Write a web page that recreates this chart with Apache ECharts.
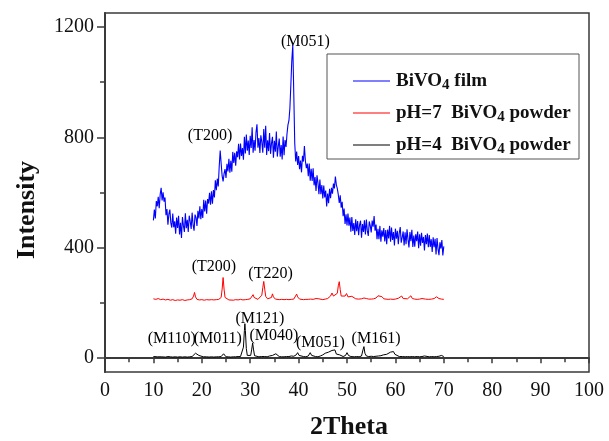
<!DOCTYPE html>
<html>
<head>
<meta charset="utf-8">
<script src="https://cdn.jsdelivr.net/npm/echarts@6/dist/echarts.min.js"></script>
<style>
  html, body { margin: 0; padding: 0; background: #fff; }
  #chart { width: 609px; height: 441px; }
</style>
</head>
<body>
<div id="chart"></div>
<script>
// XRD patterns of BiVO4 film and powders

// Film scan: sampled from 10° to 70° in 0.2° steps (one group of five per degree)
const filmStart = 10;
const filmStep = 0.2;
const filmIntensity = [
  499,538,506,569,550, 584,543,593,617,571, 601,567,582,518,540, 483,522,538,490,473,
  524,474,496,451,509, 472,516,448,490,435, 511,480,457,525,471, 501,457,516,496,468,
  527,483,462,520,510, 479,534,506,550,503, 540,508,574,531,571, 523,576,560,599,556,
  604,559,609,582,644, 608,650,622,695,752, 705,660,640,668,685, 653,704,676,722,672,
  715,675,747,707,744, 697,749,728,776,720, 777,732,761,719,802, 741,810,751,788,736,
  805,761,836,744,790, 751,818,847,762,797, 743,807,783,744,830, 762,842,736,789,750,
  815,740,778,802,726, 787,748,821,730,767, 795,730,772,720,803, 735,790,765,812,845,
  860,905,990,1080,1135, 960,780,712,748,700, 732,684,716,673,733, 712,768,715,688,705,
  659,705,643,686,642, 688,626,656,606,662, 635,594,647,594,627, 578,625,582,607,549,
  596,561,613,579,617, 596,632,615,658,628, 614,592,562,590,545, 566,514,542,486,521,
  481,524,480,509,458, 511,461,489,446,503, 460,497,445,483,498, 436,486,457,499,448,
  502,461,443,495,480, 455,498,476,515,462, 484,431,469,431,479, 422,463,440,471,423,
  464,413,466,434,479, 422,473,428,457,408, 469,433,461,413,454, 475,418,437,459,408,
  456,413,467,431,401, 457,424,465,403,444, 404,449,424,459,398, 449,407,454,417,439,
  390,446,413,451,402, 446,403,431,385,438, 402,432,376,435,397, 373,420,397,428,372,
  405
];

// pH = 7 powder: [2θ, intensity]
const ph7Pattern = [
  [10,215],[10.5,213],[11,216],[11.5,212],[12,214],[12.5,211],[13,213],[13.5,210],[14,212],[14.5,209],
  [15,211],[15.5,210],[16,212],[16.5,209],[17,211],[17.5,212],[18,215],[18.3,225],[18.5,238],[18.7,222],
  [19,213],[19.5,211],[20,212],[20.5,210],[21,212],[21.5,211],[22,212],[22.5,211],[23,212],[23.5,213],
  [24,220],[24.2,250],[24.4,292],[24.6,250],[24.8,220],[25.2,213],[25.6,211],[26,212],[26.5,210],[27,212],
  [27.5,211],[28,213],[28.5,211],[29,212],[29.5,213],[30,215],[30.4,222],[30.6,230],[30.8,220],[31.2,214],
  [31.6,213],[32,215],[32.4,228],[32.6,255],[32.8,278],[33.0,250],[33.2,224],[33.6,215],[34,214],[34.4,220],
  [34.6,233],[34.8,222],[35.2,214],[35.6,213],[36,212],[36.5,213],[37,212],[37.5,213],[38,212],[38.5,213],
  [39,214],[39.4,220],[39.6,232],[39.8,222],[40.2,214],[40.6,213],[41,212],[41.5,213],[42,213],[42.5,214],
  [43,213],[43.6,216],[43.9,222],[44.2,215],[44.6,213],[45,212],[45.5,214],[46,216],[46.6,225],[46.9,236],
  [47.2,225],[47.6,222],[48.0,235],[48.2,262],[48.4,277],[48.6,248],[48.8,225],[49.2,220],[49.6,225],[49.9,234],
  [50.2,222],[50.6,220],[51.0,224],[51.3,219],[51.8,215],[52.4,214],[53,215],[53.5,218],[54,216],[54.5,214],
  [55,214],[55.5,215],[56,218],[56.4,226],[56.8,220],[57.2,223],[57.6,215],[58,214],[58.5,213],[59,214],
  [59.5,213],[60,214],[60.6,217],[61.0,224],[61.3,225],[61.6,216],[62,214],[62.5,215],[62.9,222],[63.2,226],
  [63.5,216],[64,214],[64.5,213],[65,214],[65.5,216],[65.8,219],[66.2,214],[66.8,213],[67.5,214],[68,216],
  [68.5,222],[68.7,226],[69,216],[69.5,214],[70,213]
];

// pH = 4 powder: [2θ, intensity]
const ph4Pattern = [
  [10,6],[10.4,8],[10.8,5],[11.2,7],[11.6,5],[12,6],[12.5,4],[13,6],[13.5,5],[14,4],
  [14.5,5],[15,4],[15.5,5],[16,4],[16.5,5],[17,4],[17.5,5],[18,6],[18.4,10],[18.7,18],
  [18.9,24],[19.1,20],[19.4,10],[19.8,6],[20.3,5],[21,5],[21.5,4],[22,5],[22.5,4],[23,5],
  [23.5,5],[24,6],[24.3,10],[24.5,16],[24.7,9],[25,5],[25.5,5],[26,4],[26.5,5],[27,5],
  [27.5,6],[28,6],[28.4,12],[28.6,40],[28.8,100],[28.9,125],[29.0,100],[29.2,35],[29.4,10],[29.8,7],
  [30.1,10],[30.3,30],[30.5,55],[30.7,30],[30.9,9],[31.3,6],[31.8,5],[32.3,6],[32.7,11],[33,6],
  [33.5,5],[34,8],[34.3,15],[34.6,10],[35,14],[35.3,16],[35.6,9],[36,6],[36.5,5],[37,5],
  [37.5,6],[38,6],[38.5,8],[39,7],[39.5,12],[39.8,20],[40.1,10],[40.5,6],[41,6],[41.5,5],
  [42,8],[42.4,20],[42.7,10],[43,6],[43.5,6],[44,5],[44.5,8],[45,12],[45.5,18],[45.8,14],
  [46.2,22],[46.6,26],[46.9,28],[47.2,22],[47.5,30],[47.8,15],[48.2,8],[48.5,12],[48.8,6],[49.2,6],
  [49.7,10],[50,20],[50.3,10],[50.8,6],[51.5,5],[52,6],[52.5,5],[53,8],[53.3,30],[53.5,42],
  [53.7,18],[54,8],[54.5,6],[55,7],[55.5,6],[56,7],[56.5,8],[57,9],[57.5,12],[57.9,18],
  [58.2,14],[58.6,20],[59,22],[59.3,18],[59.6,24],[59.9,14],[60.3,10],[60.8,6],[61.5,6],[62,5],
  [62.5,6],[63,5],[63.5,6],[64,5],[64.5,6],[65,5],[65.5,6],[66,8],[66.4,6],[67,5],
  [67.5,6],[68,5],[68.5,6],[69,7],[69.5,10],[70,6]
];

// Reflection labels: text, 2θ, intensity of text centre
const peakText = ['(T200)','(M051)','(T200)','(T220)','(M110)','(M011)','(M121)','(M040)','(M051)','(M161)'];
const peakX    = [21.7, 41.4, 22.5, 34.2, 13.8, 23.3, 32.0, 34.9, 44.5, 56.0];
const peakY    = [805, 1147, 330, 305, 72, 72, 142, 81, 57, 72];

// Series names and their legend text (subscript 4)
const seriesNames = ['BiVO4 film', 'pH=7  BiVO4 powder', 'pH=4  BiVO4 powder'];
const legendText  = ['{b|BiVO}{s|4}{b| film}', '{b|pH=7  BiVO}{s|4}{b| powder}', '{b|pH=4  BiVO}{s|4}{b| powder}'];
const seriesColors = ['#0000ff', '#ff0000', '#000000'];

// Axis ticks
const xTicksMajor = 10;
const yLabelValues = [0, 400, 800, 1200];
const yMinorTickValues = [200, 600, 1000];

const serif = "'Times New Roman', 'Liberation Serif', serif";
const axisColor = '#3a3a3a';

const filmData = filmIntensity.map((v, i) => [filmStart + i * filmStep, v]);
const labelData = peakText.map((t, i) => [peakX[i], peakY[i], t]);

const chart = echarts.init(document.getElementById('chart'), null, { renderer: 'canvas' });

chart.setOption({
  animation: false,
  backgroundColor: '#ffffff',
  grid: {
    left: 105, top: 13, right: 20, bottom: 69,
    show: true, borderColor: axisColor, borderWidth: 1.5, backgroundColor: 'transparent'
  },
  xAxis: {
    type: 'value', min: 0, max: 100, interval: xTicksMajor,
    axisLine: { lineStyle: { color: axisColor, width: 2 } },
    axisTick: { length: 5, lineStyle: { color: axisColor, width: 1.5 } },
    minorTick: { show: true, splitNumber: 2, length: 4, lineStyle: { color: axisColor, width: 1.5 } },
    axisLabel: { fontFamily: serif, fontSize: 20, color: '#111', margin: 9 },
    splitLine: { show: false }
  },
  yAxis: [
    {
      type: 'value', min: -50, max: 1250,
      axisLine: { show: true, lineStyle: { color: axisColor, width: 2 } },
      axisTick: { show: true, length: 8, customValues: yLabelValues, lineStyle: { color: axisColor, width: 1.5 } },
      axisLabel: { fontFamily: serif, fontSize: 20, color: '#111', margin: 11,
        customValues: yLabelValues, formatter: v => String(v) },
      splitLine: { show: false }
    },
    {
      type: 'value', min: -50, max: 1250, position: 'left',
      axisLine: { show: false },
      axisTick: { show: true, length: 5, customValues: yMinorTickValues, lineStyle: { color: axisColor, width: 1.5 } },
      axisLabel: { show: false },
      splitLine: { show: false }
    }
  ],
  legend: {
    data: seriesNames,
    orient: 'vertical',
    left: 348, top: 64,
    icon: 'rect', itemWidth: 37, itemHeight: 1.2,
    itemGap: 8,
    formatter: name => legendText[seriesNames.indexOf(name)],
    textStyle: {
      padding: [0, 0, 0, 1],
      rich: {
        b: { fontFamily: serif, fontWeight: 'bold', fontSize: 19, color: '#111', lineHeight: 24 },
        s: { fontFamily: serif, fontWeight: 'bold', fontSize: 15, color: '#111', padding: [9, 0, 0, 0], lineHeight: 24 }
      }
    }
  },
  graphic: [
    { type: 'rect', shape: { x: 327, y: 54, width: 252, height: 105 },
      style: { fill: 'none', stroke: '#555', lineWidth: 1 }, z: 10 },
    { type: 'text', x: 27, y: 210, rotation: Math.PI / 2,
      style: { text: 'Intensity', font: "bold 26px " + serif, fill: '#111', align: 'center', verticalAlign: 'middle' } },
    { type: 'text', x: 349, y: 427,
      style: { text: '2Theta', font: "bold 26px " + serif, fill: '#111', align: 'center', verticalAlign: 'middle' } }
  ],
  series: [
    { name: seriesNames[0], type: 'line', data: filmData, showSymbol: false, symbol: 'none',
      lineStyle: { color: seriesColors[0], width: 1.1 }, itemStyle: { color: seriesColors[0] } },
    { name: seriesNames[1], type: 'line', data: ph7Pattern, showSymbol: false, symbol: 'none',
      lineStyle: { color: seriesColors[1], width: 1 }, itemStyle: { color: seriesColors[1] } },
    { name: seriesNames[2], type: 'line', data: ph4Pattern, showSymbol: false, symbol: 'none',
      lineStyle: { color: seriesColors[2], width: 1 }, itemStyle: { color: seriesColors[2] } },
    { name: 'labels', type: 'scatter', data: labelData, symbolSize: 0, silent: true, z: 5,
      itemStyle: { opacity: 1, color: '#000' },
      label: { show: true, position: 'inside', formatter: p => p.value[2], opacity: 1,
        fontFamily: serif, fontSize: 16, color: '#000', textBorderWidth: 0, textBorderColor: 'transparent' } }
  ]
});
</script>
</body>
</html>
